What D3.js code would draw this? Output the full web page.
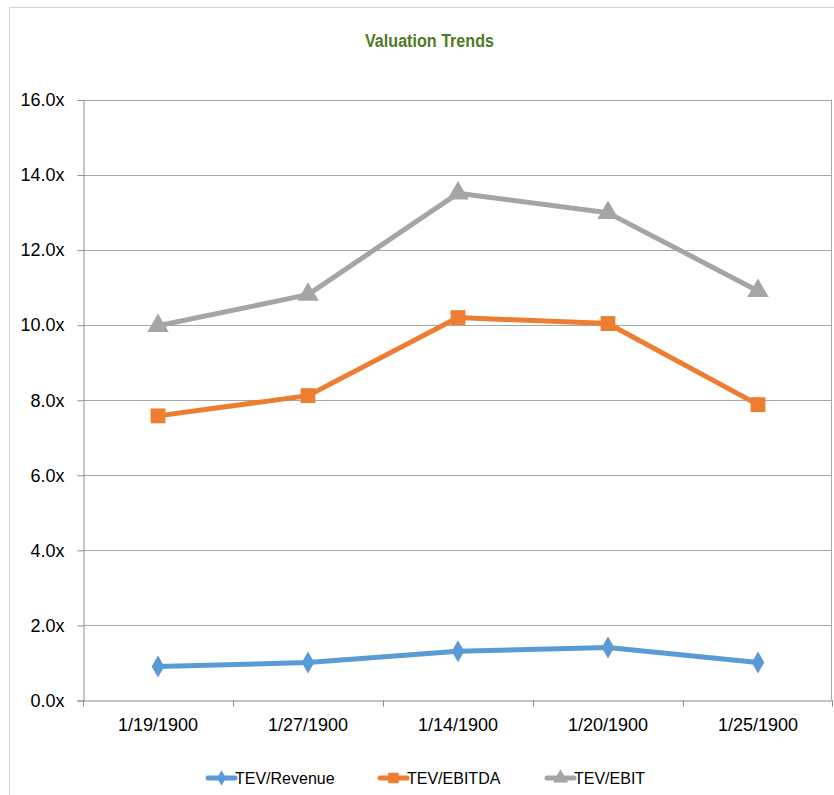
<!DOCTYPE html>
<html>
<head>
<meta charset="utf-8">
<script src="https://cdn.jsdelivr.net/npm/d3@7"></script>
<style>
  html, body { margin: 0; padding: 0; background: #fff; }
  svg { display: block; }
</style>
</head>
<body>
<svg id="chart" width="834" height="795"></svg>
<script>
// Valuation multiples by period
const categories = ["1/19/1900", "1/27/1900", "1/14/1900", "1/20/1900", "1/25/1900"];
const tevRevenue = [0.89, 1.0, 1.3, 1.4, 1.0];
const tevEbitda  = [7.57, 8.11, 10.19, 10.03, 7.87];
const tevEbit    = [9.97, 10.8, 13.5, 12.98, 10.9];
const seriesNames = ["TEV/Revenue", "TEV/EBITDA", "TEV/EBIT"];
const yTicks = [0, 2, 4, 6, 8, 10, 12, 14, 16];

const colors = ["#5b9bd5", "#ed7d31", "#a5a5a5"];
const symbols = [d3.symbolDiamond, d3.symbolSquare, d3.symbolTriangle];
const symbolSizes = [140, 220, 200];

const series = [tevRevenue, tevEbitda, tevEbit].map((vals, i) => ({
  name: seriesNames[i], values: vals, color: colors[i],
  symbol: symbols[i], size: symbolSizes[i]
}));

const svg = d3.select("#chart");
const font = "'Liberation Sans', Arial, sans-serif";

// chart frame
svg.append("rect")
  .attr("x", 9.5).attr("y", 7.5)
  .attr("width", 900).attr("height", 900)
  .attr("fill", "#fff").attr("stroke", "#d4d4d4").attr("stroke-width", 1);

const plot = { left: 83, right: 833, top: 99.5, bottom: 700 };

const x = d3.scaleBand().domain(categories).range([plot.left, plot.right]);
const y = d3.scaleLinear().domain([0, 16]).range([plot.bottom, plot.top]);

// title (condensed bold)
svg.append("text")
  .attr("x", 365).attr("y", 47)
  .attr("font-family", "'Liberation Sans Narrow', 'Arial Narrow', " + font)
  .attr("font-weight", "bold")
  .attr("font-size", 18)
  .attr("textLength", 129)
  .attr("lengthAdjust", "spacingAndGlyphs")
  .attr("fill", "#4f7b28")
  .text("Valuation Trends");

// gridlines
svg.append("g")
  .selectAll("line")
  .data(yTicks.filter(t => t > 0))
  .join("line")
  .attr("x1", plot.left).attr("x2", plot.right - 1)
  .attr("y1", d => Math.round(y(d)) + 0.5).attr("y2", d => Math.round(y(d)) + 0.5)
  .attr("stroke", "#a6a6a6").attr("stroke-width", 1);

// right edge of plot area
svg.append("line")
  .attr("x1", plot.right - 1.5).attr("x2", plot.right - 1.5)
  .attr("y1", y(16)).attr("y2", plot.bottom)
  .attr("stroke", "#a6a6a6");

// y axis
const yAxis = d3.axisLeft(y)
  .tickValues(yTicks)
  .tickSize(6)
  .tickPadding(13)
  .tickFormat(d => d3.format(".1f")(d) + "x");
const gy = svg.append("g")
  .attr("transform", `translate(${plot.left + 0.5},0.5)`)
  .call(yAxis);
gy.selectAll("path, line").attr("stroke", "#8c8c8c");
gy.selectAll("text")
  .attr("font-family", font).attr("font-size", 18).attr("fill", "#000");

// x axis with ticks at category boundaries
const xAxis = d3.axisBottom(x).tickSize(0).tickPadding(18);
const gx = svg.append("g")
  .attr("transform", `translate(0,${plot.bottom + 0.5})`)
  .call(xAxis);
gx.select(".domain").attr("stroke", "#8c8c8c");
gx.selectAll("text")
  .attr("font-family", font).attr("font-size", 18).attr("fill", "#000");
const boundaries = categories.map(c => x(c)).concat([plot.right - 1]);
gx.selectAll(".bound")
  .data(boundaries)
  .join("line")
  .attr("class", "bound")
  .attr("x1", d => Math.round(d) + 0.5).attr("x2", d => Math.round(d) + 0.5)
  .attr("y1", 0).attr("y2", 6)
  .attr("stroke", "#8c8c8c");

// series lines and markers
const line = d3.line()
  .x((d, i) => x(categories[i]) + x.bandwidth() / 2)
  .y(d => y(d));

series.forEach(s => {
  svg.append("path")
    .datum(s.values)
    .attr("d", line)
    .attr("fill", "none")
    .attr("stroke", s.color)
    .attr("stroke-width", 5)
    .attr("stroke-linejoin", "round")
    .attr("stroke-linecap", "round");
  svg.append("g")
    .selectAll("path")
    .data(s.values)
    .join("path")
    .attr("transform", (d, i) => `translate(${x(categories[i]) + x.bandwidth() / 2},${y(d)})`)
    .attr("d", d3.symbol().type(s.symbol).size(s.size))
    .attr("fill", s.color);
});

// legend
const legendX = [208, 380, 547];
const legend = svg.append("g");
series.forEach((s, i) => {
  const g = legend.append("g").attr("transform", `translate(${legendX[i]},778)`);
  g.append("line")
    .attr("x1", 0).attr("x2", 27).attr("y1", 0).attr("y2", 0)
    .attr("stroke", s.color).attr("stroke-width", 5).attr("stroke-linecap", "round");
  g.append("path")
    .attr("transform", "translate(13.5,0)")
    .attr("d", d3.symbol().type(s.symbol).size(s.size * 0.5))
    .attr("fill", s.color);
  g.append("text")
    .attr("x", 27).attr("y", 6)
    .attr("font-family", font).attr("font-size", 16).attr("fill", "#000")
    .text(s.name);
});
</script>
</body>
</html>
